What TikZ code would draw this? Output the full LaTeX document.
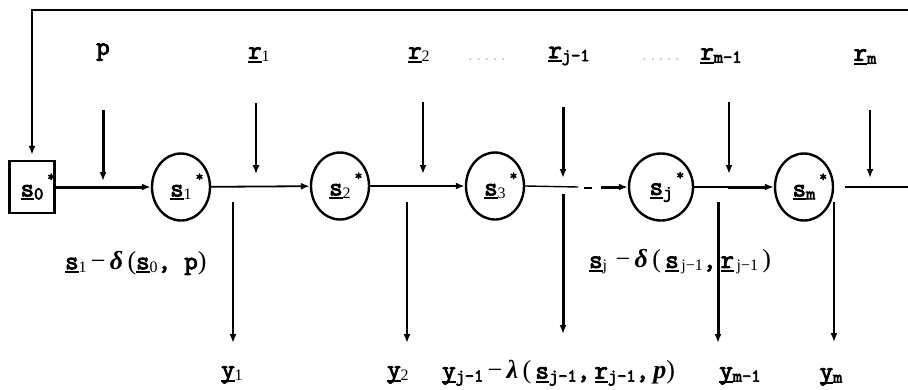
\documentclass[tikz,border=0pt]{standalone}
\usepackage{fontspec}
\setmainfont{Liberation Serif}
\newfontfamily\serif{Liberation Serif}
\newfontfamily\cour{Latin Modern Mono}[AutoFakeBold=3.5]
\usetikzlibrary{arrows.meta,shapes.geometric}

\newcommand{\uln}[1]{\setbox0\hbox{#1}\rlap{\rule[-4pt]{\wd0}{2pt}}\box0}
\newcommand{\V}[1]{\uln{\cour\bfseries #1}}
\newcommand{\B}[1]{{\cour\bfseries #1}}
\newcommand{\sbs}[1]{\raisebox{-3pt}{\fontsize{16}{16}\selectfont\serif #1}}
\newcommand{\sbm}[1]{\raisebox{-3pt}{\fontsize{18}{18}\selectfont\cour\bfseries #1}}
\newcommand{\st}{\rlap{\raisebox{15pt}{\hspace{4pt}\fontsize{15}{15}\selectfont\cour\bfseries *}}}
\newcommand{\gdel}{{\bfseries\itshape δ}}
\newcommand{\glam}{{\bfseries\itshape λ}}

\tikzset{
  lbl/.style={inner sep=0pt, font=\fontsize{26}{28}\selectfont},
  dotsl/.style={inner sep=0pt, text=gray!60, font=\fontsize{16}{16}\selectfont\cour},
  statecirc/.style={draw, ellipse, line width=2.4pt, minimum width=58pt, minimum height=67pt, inner sep=0pt, font=\fontsize{26}{28}\selectfont},
  initbox/.style={draw, rectangle, line width=2.4pt, minimum width=45pt, minimum height=52pt, inner sep=0pt, font=\fontsize{26}{28}\selectfont},
  arr/.style={-{Latex[length=9pt,width=7pt]}},
}

\begin{document}
\begin{tikzpicture}[x=1pt,y=-1pt]
\useasboundingbox (0,0) rectangle (908,389);

% states
\node[initbox] (s0) at (32,187) {\V{s}\sbm{0}\st};
\node[statecirc] (s1) at (181,187) {\V{s}\sbs{1}\st};
\node[statecirc] (s2) at (340,186) {\V{s}\sbs{2}\st};
\node[statecirc] (s3) at (495,186) {\V{s}\sbs{3}\st};
\node[statecirc, minimum width=64pt] (sj) at (661,187) {\V{s}\sbm{j}\st};
\node[statecirc] (sm) at (804,187) {\V{s}\sbm{m}\st};

% top labels
\node[lbl] (p) at (103,52) {\B{p}};
\node[lbl] (r1) at (259,55) {\V{r}\sbs{1}};
\node[lbl] (r2) at (419,55) {\V{r}\sbs{2}};
\node[dotsl] (d1) at (487,60) {.....};
\node[lbl] (rj) at (569,56) {\V{r}\sbm{j-1}};
\node[dotsl] (d2) at (661,60) {.....};
\node[lbl] (rm1) at (721,56) {\V{r}\sbm{m-1}};
\node[lbl] (rm) at (865,57) {\V{r}\sbm{m}};

% bottom labels
\node[lbl] (y1) at (232,375) {\V{y}\sbs{1}};
\node[lbl] (y2) at (398,375) {\V{y}\sbs{2}};
\node[lbl, anchor=west] (yj) at (442,373) {\V{y}\sbm{j-1}\,−\,\glam\,(\,\V{s}\sbm{j-1}\B{,}\,\V{r}\sbm{j-1}\B{,}\,{\bfseries\itshape p})};
\node[lbl] (ym1) at (740,376) {\V{y}\sbm{m-1}};
\node[lbl] (ym) at (831,377) {\V{y}\sbm{m}};

% transition labels
\node[lbl, anchor=west] (lab1) at (65,263) {\V{s}\sbs{1}\,−\,\gdel\,(\V{s}\sbs{0}\B{, p})};
\node[lbl, anchor=west] (lab2) at (589,262) {\V{s}\sbs{j}\,\,−\,\gdel\,(\,\V{s}\sbs{\,j−1}\B{,}\,\V{r}\sbs{\,j−1}\,)};

% feedback
\coordinate (fbR) at (908,10);
\draw[arr, line width=1.8pt, shorten >=5pt] (fbR) -| (s0.north);

% main chain
\draw[arr, line width=3pt] (s0) -- (s1);
\draw[arr, line width=1.8pt] (s1) -- (s2);
\draw[arr, line width=2.4pt] (s2) -- (s3);
\coordinate (c3a) at (578,187);
\coordinate (c3b) at (584,188);
\coordinate (c3c) at (592,188);
\coordinate (c3d) at (601,187);
\draw[line width=1.4pt] (s3.east) -- (c3a);
\draw[line width=1.6pt] (c3b) -- (c3c);
\draw[arr, line width=3pt] (c3d) -- (sj.west);
\coordinate (cjm) at (728,187);
\draw[line width=1.4pt] (sj.east) -- (cjm);
\draw[arr, line width=3pt] (cjm) -- (sm.west);
\coordinate (outL) at (845,187);
\coordinate (outR) at (908,187);
\draw[line width=1.4pt] (outL) -- (outR);

% input arrows
\coordinate (pA) at (103,110); \coordinate (pB) at (103,181);
\coordinate (r1A) at (256,103); \coordinate (r1B) at (256,174);
\coordinate (r2A) at (423,102); \coordinate (r2B) at (423,174);
\coordinate (rjA) at (563,107); \coordinate (rjB) at (563,178);
\coordinate (rm1A) at (729,102); \coordinate (rm1B) at (729,174);
\coordinate (rmA) at (870,110); \coordinate (rmB) at (870,178);
\draw[arr, line width=3pt] (pA) -- (pB);
\draw[arr, line width=1.5pt] (r1A) -- (r1B);
\draw[arr, line width=2pt] (r2A) -- (r2B);
\draw[arr, line width=3pt] (rjA) -- (rjB);
\draw[arr, line width=2.2pt] (rm1A) -- (rm1B);
\draw[arr, line width=2pt] (rmA) -- (rmB);

% output arrows
\coordinate (y1A) at (233,202); \coordinate (y1B) at (233,343);
\coordinate (y2A) at (407,202); \coordinate (y2B) at (407,343);
\coordinate (yjA) at (563,194); \coordinate (yjB) at (563,334);
\coordinate (ym1A) at (718,202); \coordinate (ym1B) at (718,343);
\coordinate (ymA) at (834,202); \coordinate (ymB) at (834,342);
\draw[arr, line width=2.6pt] (y1A) -- (y1B);
\draw[arr, line width=2.6pt] (y2A) -- (y2B);
\draw[arr, line width=3pt] (yjA) -- (yjB);
\draw[arr, line width=3pt] (ym1A) -- (ym1B);
\draw[arr, line width=1.5pt] (ymA) -- (ymB);
\end{tikzpicture}
\end{document}
